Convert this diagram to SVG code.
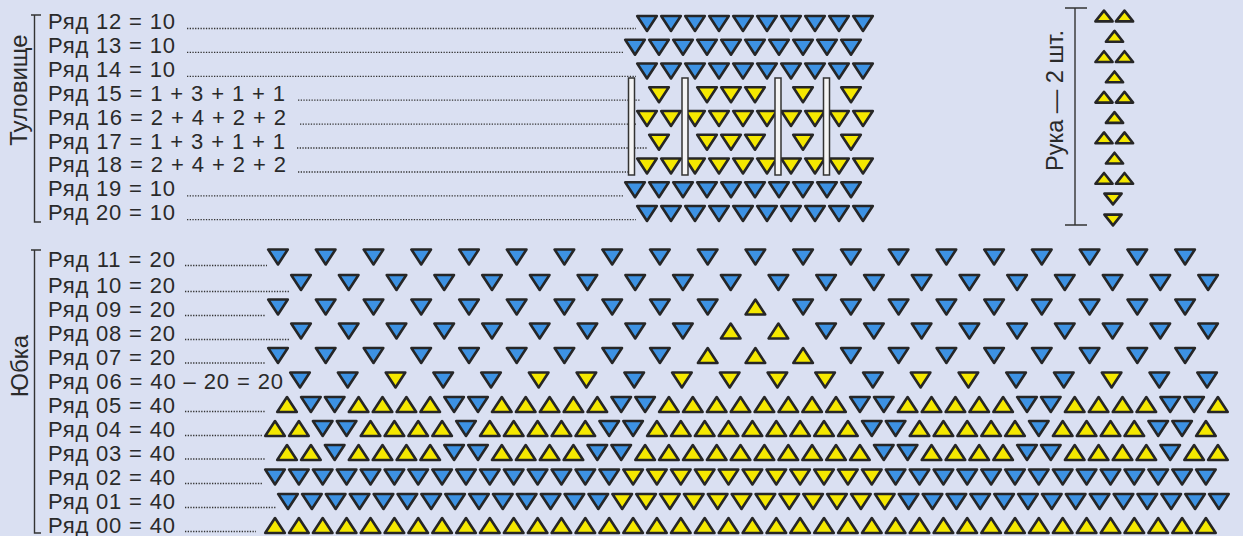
<svg xmlns="http://www.w3.org/2000/svg" width="1243" height="536" viewBox="0 0 1243 536">
<style>
.t{font-family:"Liberation Sans",Arial,sans-serif;font-size:22px;fill:#2a2a2a}
.v{font-family:"Liberation Sans",Arial,sans-serif;font-size:24px;fill:#2a2a2a}
.b{fill:#3d92e3}
.y{fill:#f5e800}
use{stroke:#262626;stroke-width:2.6;stroke-linejoin:round}
.ld{stroke:#333;stroke-width:1.3;stroke-dasharray:1.3 1.4;fill:none}
.br{stroke:#333;stroke-width:1.4;fill:none}
.bar{fill:#f4f4f4;stroke:#333;stroke-width:1.5}
</style>
<defs>
<path id="d" d="M-9.8,-7.5H9.8L0,7.5Z"/>
<path id="u" d="M-9.8,7.5H9.8L0,-7.5Z"/>
<path id="ad" d="M-8.6,-5.4H8.6L0,5.4Z"/>
<path id="au" d="M-8.6,5.4H8.6L0,-5.4Z"/>
</defs>
<rect width="1243" height="536" fill="#dae0f2"/>

<g id="labels-vertical">
<text class="v" transform="translate(27,90) rotate(-90)" text-anchor="middle">Туловище</text>
<text class="v" transform="translate(28,366) rotate(-90)" text-anchor="middle">Юбка</text>
<text class="v" style="font-size:23.5px" transform="translate(1063,100.5) rotate(-90)" text-anchor="middle">Рука — 2 шт.</text>
</g>

<g id="brackets" class="br">
<path d="M31,15H41M34.5,15V222H41"/>
<path d="M31,250H41M34.5,250V533H41"/>
<path d="M1065,8H1087M1075,8V225M1065,225H1087"/>
</g>

<g id="leaders" class="ld">
<path d="M187,28.5H636"/>
<path d="M187,52.4H624"/>
<path d="M187,76.3H636"/>
<path d="M298,100.2H640"/>
<path d="M300,124.1H636"/>
<path d="M297,148H648"/>
<path d="M298,172H630"/>
<path d="M187,195.8H624"/>
<path d="M187,219.7H636"/>
<path d="M185,265.5H267"/>
<path d="M185,291.5H290"/>
<path d="M185,315.5H265"/>
<path d="M185,339.5H290"/>
<path d="M185,363H265"/>
<path d="M185,411.5H266"/>
<path d="M185,435.5H262"/>
<path d="M185,459H266"/>
<path d="M185,483.5H262"/>
<path d="M185,507.5H276"/>
<path d="M185,531.5H256"/>
</g>

<!-- Body -->
<g id="row12"><text class="t" x="48" y="29" textLength="127">Ряд 12 = 10</text>
<g class="b" transform="translate(647,23.5)"><use href="#d"/><use href="#d" x="24"/><use href="#d" x="48"/><use href="#d" x="72"/><use href="#d" x="96"/><use href="#d" x="120"/><use href="#d" x="144"/><use href="#d" x="168"/><use href="#d" x="192"/><use href="#d" x="216"/></g></g>
<g id="row13"><text class="t" x="48" y="52.9" textLength="127">Ряд 13 = 10</text>
<g class="b" transform="translate(635,47.25)"><use href="#d"/><use href="#d" x="24"/><use href="#d" x="48"/><use href="#d" x="72"/><use href="#d" x="96"/><use href="#d" x="120"/><use href="#d" x="144"/><use href="#d" x="168"/><use href="#d" x="192"/><use href="#d" x="216"/></g></g>
<g id="row14"><text class="t" x="48" y="76.8" textLength="127">Ряд 14 = 10</text>
<g class="b" transform="translate(647,71)"><use href="#d"/><use href="#d" x="24"/><use href="#d" x="48"/><use href="#d" x="72"/><use href="#d" x="96"/><use href="#d" x="120"/><use href="#d" x="144"/><use href="#d" x="168"/><use href="#d" x="192"/><use href="#d" x="216"/></g></g>
<g id="row15"><text class="t" x="48" y="100.7" textLength="237">Ряд 15 = 1 + 3 + 1 + 1</text>
<g class="y" transform="translate(635,94.75)"><use href="#d" x="24"/><use href="#d" x="72"/><use href="#d" x="96"/><use href="#d" x="120"/><use href="#d" x="168"/><use href="#d" x="216"/></g></g>
<g id="row16"><text class="t" x="48" y="124.6" textLength="238">Ряд 16 = 2 + 4 + 2 + 2</text>
<g class="y" transform="translate(647,118.5)"><use href="#d"/><use href="#d" x="24"/><use href="#d" x="48"/><use href="#d" x="72"/><use href="#d" x="96"/><use href="#d" x="120"/><use href="#d" x="144"/><use href="#d" x="168"/><use href="#d" x="192"/><use href="#d" x="216"/></g></g>
<g id="row17"><text class="t" x="48" y="148.5" textLength="237">Ряд 17 = 1 + 3 + 1 + 1</text>
<g class="y" transform="translate(635,142.25)"><use href="#d" x="24"/><use href="#d" x="72"/><use href="#d" x="96"/><use href="#d" x="120"/><use href="#d" x="168"/><use href="#d" x="216"/></g></g>
<g id="row18"><text class="t" x="48" y="172.4" textLength="238">Ряд 18 = 2 + 4 + 2 + 2</text>
<g class="y" transform="translate(647,166)"><use href="#d"/><use href="#d" x="24"/><use href="#d" x="48"/><use href="#d" x="72"/><use href="#d" x="96"/><use href="#d" x="120"/><use href="#d" x="144"/><use href="#d" x="168"/><use href="#d" x="192"/><use href="#d" x="216"/></g></g>
<g id="row19"><text class="t" x="48" y="196.3" textLength="127">Ряд 19 = 10</text>
<g class="b" transform="translate(635,189.75)"><use href="#d"/><use href="#d" x="24"/><use href="#d" x="48"/><use href="#d" x="72"/><use href="#d" x="96"/><use href="#d" x="120"/><use href="#d" x="144"/><use href="#d" x="168"/><use href="#d" x="192"/><use href="#d" x="216"/></g></g>
<g id="row20"><text class="t" x="48" y="220.2" textLength="127">Ряд 20 = 10</text>
<g class="b" transform="translate(647,213.5)"><use href="#d"/><use href="#d" x="24"/><use href="#d" x="48"/><use href="#d" x="72"/><use href="#d" x="96"/><use href="#d" x="120"/><use href="#d" x="144"/><use href="#d" x="168"/><use href="#d" x="192"/><use href="#d" x="216"/></g></g>

<g id="bars" class="bar">
<rect x="628.5" y="78" width="6" height="97"/>
<rect x="682" y="78" width="6" height="97"/>
<rect x="775" y="78" width="6" height="97"/>
<rect x="823.5" y="78" width="6" height="97"/>
</g>

<!-- Arm -->
<g id="arm" class="y">
<use href="#au" x="1104" y="16"/><use href="#au" x="1124.5" y="16"/>
<use href="#au" x="1114.5" y="36.3"/>
<use href="#au" x="1104" y="56.6"/><use href="#au" x="1124.5" y="56.6"/>
<use href="#au" x="1114.5" y="76.9"/>
<use href="#au" x="1104" y="97.2"/><use href="#au" x="1124.5" y="97.2"/>
<use href="#au" x="1114.5" y="117.5"/>
<use href="#au" x="1104" y="137.8"/><use href="#au" x="1124.5" y="137.8"/>
<use href="#au" x="1114.5" y="158.1"/>
<use href="#au" x="1104" y="178.4"/><use href="#au" x="1124.5" y="178.4"/>
<use href="#ad" x="1113" y="199"/>
<use href="#ad" x="1113" y="220"/>
</g>

<!-- Skirt -->
<g id="row11"><text class="t" x="48" y="267" textLength="127">Ряд 11 = 20</text>
<g class="b" transform="translate(278,257)"><use href="#d"/><use href="#d" x="47.7"/><use href="#d" x="95.5"/><use href="#d" x="143.2"/><use href="#d" x="191"/><use href="#d" x="238.7"/><use href="#d" x="286.4"/><use href="#d" x="334.2"/><use href="#d" x="381.9"/><use href="#d" x="429.7"/><use href="#d" x="477.4"/><use href="#d" x="525.1"/><use href="#d" x="572.9"/><use href="#d" x="620.6"/><use href="#d" x="668.4"/><use href="#d" x="716.1"/><use href="#d" x="763.8"/><use href="#d" x="811.6"/><use href="#d" x="859.3"/><use href="#d" x="907.1"/></g></g>
<g id="row10"><text class="t" x="48" y="293" textLength="127">Ряд 10 = 20</text>
<g class="b" transform="translate(301,282.5)"><use href="#d"/><use href="#d" x="47.7"/><use href="#d" x="95.5"/><use href="#d" x="143.2"/><use href="#d" x="191"/><use href="#d" x="238.7"/><use href="#d" x="286.4"/><use href="#d" x="334.2"/><use href="#d" x="381.9"/><use href="#d" x="429.7"/><use href="#d" x="477.4"/><use href="#d" x="525.1"/><use href="#d" x="572.9"/><use href="#d" x="620.6"/><use href="#d" x="668.4"/><use href="#d" x="716.1"/><use href="#d" x="763.8"/><use href="#d" x="811.6"/><use href="#d" x="859.3"/><use href="#d" x="907.1"/></g></g>
<g id="row09"><text class="t" x="48" y="317" textLength="127">Ряд 09 = 20</text>
<g transform="translate(278,307)"><g class="b"><use href="#d"/><use href="#d" x="47.7"/><use href="#d" x="95.5"/><use href="#d" x="143.2"/><use href="#d" x="191"/><use href="#d" x="238.7"/><use href="#d" x="286.4"/><use href="#d" x="334.2"/><use href="#d" x="381.9"/><use href="#d" x="429.7"/><use href="#d" x="525.1"/><use href="#d" x="572.9"/><use href="#d" x="620.6"/><use href="#d" x="668.4"/><use href="#d" x="716.1"/><use href="#d" x="763.8"/><use href="#d" x="811.6"/><use href="#d" x="859.3"/><use href="#d" x="907.1"/></g><g class="y"><use href="#u" x="477.4"/></g></g></g>
<g id="row08"><text class="t" x="48" y="341" textLength="127">Ряд 08 = 20</text>
<g transform="translate(301,331)"><g class="b"><use href="#d"/><use href="#d" x="47.7"/><use href="#d" x="95.5"/><use href="#d" x="143.2"/><use href="#d" x="191"/><use href="#d" x="238.7"/><use href="#d" x="286.4"/><use href="#d" x="334.2"/><use href="#d" x="381.9"/><use href="#d" x="525.1"/><use href="#d" x="572.9"/><use href="#d" x="620.6"/><use href="#d" x="668.4"/><use href="#d" x="716.1"/><use href="#d" x="763.8"/><use href="#d" x="811.6"/><use href="#d" x="859.3"/><use href="#d" x="907.1"/></g><g class="y"><use href="#u" x="429.7"/><use href="#u" x="477.4"/></g></g></g>
<g id="row07"><text class="t" x="48" y="364.5" textLength="127">Ряд 07 = 20</text>
<g transform="translate(278,355.5)"><g class="b"><use href="#d"/><use href="#d" x="47.7"/><use href="#d" x="95.5"/><use href="#d" x="143.2"/><use href="#d" x="191"/><use href="#d" x="238.7"/><use href="#d" x="286.4"/><use href="#d" x="334.2"/><use href="#d" x="381.9"/><use href="#d" x="572.9"/><use href="#d" x="620.6"/><use href="#d" x="668.4"/><use href="#d" x="716.1"/><use href="#d" x="763.8"/><use href="#d" x="811.6"/><use href="#d" x="859.3"/><use href="#d" x="907.1"/></g><g class="y"><use href="#u" x="429.7"/><use href="#u" x="477.4"/><use href="#u" x="525.1"/></g></g></g>
<g id="row06"><text class="t" x="48" y="388.5" textLength="235">Ряд 06 = 40 – 20 = 20</text>
<g transform="translate(300,380)"><g class="b"><use href="#d"/><use href="#d" x="47.7"/><use href="#d" x="143.2"/><use href="#d" x="191"/><use href="#d" x="334.2"/><use href="#d" x="572.9"/><use href="#d" x="716.1"/><use href="#d" x="763.8"/><use href="#d" x="859.3"/><use href="#d" x="907.1"/></g><g class="y"><use href="#d" x="95.5"/><use href="#d" x="238.7"/><use href="#d" x="286.4"/><use href="#d" x="381.9"/><use href="#d" x="429.7"/><use href="#d" x="477.4"/><use href="#d" x="525.1"/><use href="#d" x="620.6"/><use href="#d" x="668.4"/><use href="#d" x="811.6"/></g></g></g>
<g id="row05"><text class="t" x="48" y="413" textLength="127">Ряд 05 = 40</text>
<g transform="translate(287,404.5)"><g class="y"><use href="#u"/><use href="#u" x="71.6"/><use href="#u" x="95.5"/><use href="#u" x="119.4"/><use href="#u" x="143.2"/><use href="#u" x="214.8"/><use href="#u" x="238.7"/><use href="#u" x="262.6"/><use href="#u" x="286.4"/><use href="#u" x="310.3"/><use href="#u" x="381.9"/><use href="#u" x="405.8"/><use href="#u" x="429.7"/><use href="#u" x="453.5"/><use href="#u" x="477.4"/><use href="#u" x="501.3"/><use href="#u" x="525.1"/><use href="#u" x="549"/><use href="#u" x="620.6"/><use href="#u" x="644.5"/><use href="#u" x="668.4"/><use href="#u" x="692.2"/><use href="#u" x="716.1"/><use href="#u" x="787.7"/><use href="#u" x="811.6"/><use href="#u" x="835.5"/><use href="#u" x="859.3"/><use href="#u" x="930.9"/></g><g class="b"><use href="#d" x="23.9"/><use href="#d" x="47.7"/><use href="#d" x="167.1"/><use href="#d" x="191"/><use href="#d" x="334.2"/><use href="#d" x="358.1"/><use href="#d" x="572.9"/><use href="#d" x="596.8"/><use href="#d" x="740"/><use href="#d" x="763.8"/><use href="#d" x="883.2"/><use href="#d" x="907.1"/></g></g></g>
<g id="row04"><text class="t" x="48" y="437" textLength="127">Ряд 04 = 40</text>
<g transform="translate(275,428.5)"><g class="y"><use href="#u"/><use href="#u" x="23.9"/><use href="#u" x="95.5"/><use href="#u" x="119.4"/><use href="#u" x="143.2"/><use href="#u" x="167.1"/><use href="#u" x="214.8"/><use href="#u" x="238.7"/><use href="#u" x="262.6"/><use href="#u" x="286.4"/><use href="#u" x="310.3"/><use href="#u" x="381.9"/><use href="#u" x="405.8"/><use href="#u" x="429.7"/><use href="#u" x="453.5"/><use href="#u" x="477.4"/><use href="#u" x="501.3"/><use href="#u" x="525.1"/><use href="#u" x="549"/><use href="#u" x="572.9"/><use href="#u" x="644.5"/><use href="#u" x="668.4"/><use href="#u" x="692.2"/><use href="#u" x="716.1"/><use href="#u" x="740"/><use href="#u" x="787.7"/><use href="#u" x="811.6"/><use href="#u" x="835.5"/><use href="#u" x="859.3"/><use href="#u" x="930.9"/></g><g class="b"><use href="#d" x="47.7"/><use href="#d" x="71.6"/><use href="#d" x="191"/><use href="#d" x="334.2"/><use href="#d" x="358.1"/><use href="#d" x="596.8"/><use href="#d" x="620.6"/><use href="#d" x="763.8"/><use href="#d" x="883.2"/><use href="#d" x="907.1"/></g></g></g>
<g id="row03"><text class="t" x="48" y="460.5" textLength="127">Ряд 03 = 40</text>
<g transform="translate(287,452.5)"><g class="y"><use href="#u"/><use href="#u" x="23.9"/><use href="#u" x="71.6"/><use href="#u" x="95.5"/><use href="#u" x="119.4"/><use href="#u" x="143.2"/><use href="#u" x="214.8"/><use href="#u" x="238.7"/><use href="#u" x="262.6"/><use href="#u" x="286.4"/><use href="#u" x="358.1"/><use href="#u" x="381.9"/><use href="#u" x="405.8"/><use href="#u" x="429.7"/><use href="#u" x="453.5"/><use href="#u" x="477.4"/><use href="#u" x="501.3"/><use href="#u" x="525.1"/><use href="#u" x="549"/><use href="#u" x="572.9"/><use href="#u" x="644.5"/><use href="#u" x="668.4"/><use href="#u" x="692.2"/><use href="#u" x="716.1"/><use href="#u" x="787.7"/><use href="#u" x="811.6"/><use href="#u" x="835.5"/><use href="#u" x="859.3"/><use href="#u" x="907.1"/><use href="#u" x="930.9"/></g><g class="b"><use href="#d" x="47.7"/><use href="#d" x="167.1"/><use href="#d" x="191"/><use href="#d" x="310.3"/><use href="#d" x="334.2"/><use href="#d" x="596.8"/><use href="#d" x="620.6"/><use href="#d" x="740"/><use href="#d" x="763.8"/><use href="#d" x="883.2"/></g></g></g>
<g id="row02"><text class="t" x="48" y="485" textLength="127">Ряд 02 = 40</text>
<g transform="translate(275,477)"><g class="b"><use href="#d"/><use href="#d" x="23.9"/><use href="#d" x="47.7"/><use href="#d" x="71.6"/><use href="#d" x="95.5"/><use href="#d" x="119.4"/><use href="#d" x="143.2"/><use href="#d" x="167.1"/><use href="#d" x="191"/><use href="#d" x="214.8"/><use href="#d" x="238.7"/><use href="#d" x="262.6"/><use href="#d" x="286.4"/><use href="#d" x="310.3"/><use href="#d" x="334.2"/><use href="#d" x="620.6"/><use href="#d" x="644.5"/><use href="#d" x="668.4"/><use href="#d" x="692.2"/><use href="#d" x="716.1"/><use href="#d" x="740"/><use href="#d" x="763.8"/><use href="#d" x="787.7"/><use href="#d" x="811.6"/><use href="#d" x="835.5"/><use href="#d" x="859.3"/><use href="#d" x="883.2"/><use href="#d" x="907.1"/><use href="#d" x="930.9"/></g><g class="y"><use href="#d" x="358.1"/><use href="#d" x="381.9"/><use href="#d" x="405.8"/><use href="#d" x="429.7"/><use href="#d" x="453.5"/><use href="#d" x="477.4"/><use href="#d" x="501.3"/><use href="#d" x="525.1"/><use href="#d" x="549"/><use href="#d" x="572.9"/><use href="#d" x="596.8"/></g></g></g>
<g id="row01"><text class="t" x="48" y="509" textLength="127">Ряд 01 = 40</text>
<g transform="translate(288,501.5)"><g class="b"><use href="#d"/><use href="#d" x="23.9"/><use href="#d" x="47.7"/><use href="#d" x="71.6"/><use href="#d" x="95.5"/><use href="#d" x="119.4"/><use href="#d" x="143.2"/><use href="#d" x="167.1"/><use href="#d" x="191"/><use href="#d" x="214.8"/><use href="#d" x="238.7"/><use href="#d" x="262.6"/><use href="#d" x="286.4"/><use href="#d" x="310.3"/><use href="#d" x="620.6"/><use href="#d" x="644.5"/><use href="#d" x="668.4"/><use href="#d" x="692.2"/><use href="#d" x="716.1"/><use href="#d" x="740"/><use href="#d" x="763.8"/><use href="#d" x="787.7"/><use href="#d" x="811.6"/><use href="#d" x="835.5"/><use href="#d" x="859.3"/><use href="#d" x="883.2"/><use href="#d" x="907.1"/><use href="#d" x="930.9"/></g><g class="y"><use href="#d" x="334.2"/><use href="#d" x="358.1"/><use href="#d" x="381.9"/><use href="#d" x="405.8"/><use href="#d" x="429.7"/><use href="#d" x="453.5"/><use href="#d" x="477.4"/><use href="#d" x="501.3"/><use href="#d" x="525.1"/><use href="#d" x="549"/><use href="#d" x="572.9"/><use href="#d" x="596.8"/></g></g></g>
<g id="row00"><text class="t" x="48" y="533" textLength="127">Ряд 00 = 40</text>
<g class="y" transform="translate(275,525.5)"><use href="#u"/><use href="#u" x="23.9"/><use href="#u" x="47.7"/><use href="#u" x="71.6"/><use href="#u" x="95.5"/><use href="#u" x="119.4"/><use href="#u" x="143.2"/><use href="#u" x="167.1"/><use href="#u" x="191"/><use href="#u" x="214.8"/><use href="#u" x="238.7"/><use href="#u" x="262.6"/><use href="#u" x="286.4"/><use href="#u" x="310.3"/><use href="#u" x="334.2"/><use href="#u" x="358.1"/><use href="#u" x="381.9"/><use href="#u" x="405.8"/><use href="#u" x="429.7"/><use href="#u" x="453.5"/><use href="#u" x="477.4"/><use href="#u" x="501.3"/><use href="#u" x="525.1"/><use href="#u" x="549"/><use href="#u" x="572.9"/><use href="#u" x="596.8"/><use href="#u" x="620.6"/><use href="#u" x="644.5"/><use href="#u" x="668.4"/><use href="#u" x="692.2"/><use href="#u" x="716.1"/><use href="#u" x="740"/><use href="#u" x="763.8"/><use href="#u" x="787.7"/><use href="#u" x="811.6"/><use href="#u" x="835.5"/><use href="#u" x="859.3"/><use href="#u" x="883.2"/><use href="#u" x="907.1"/><use href="#u" x="930.9"/></g></g>
</svg>
